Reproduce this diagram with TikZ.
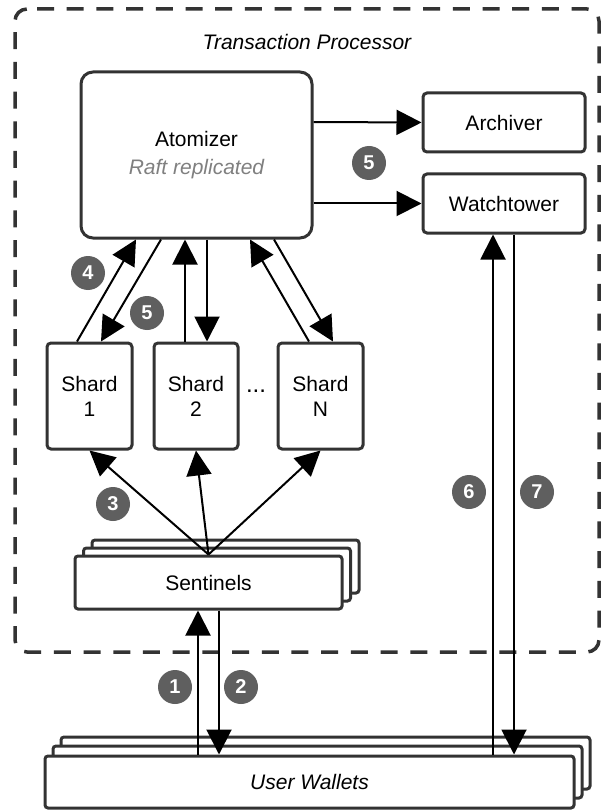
\documentclass[tikz,border=0pt]{standalone}
\usepackage{fontspec}
\setmainfont{Liberation Sans}
\usetikzlibrary{arrows.meta}
\definecolor{boxline}{HTML}{333333}
\definecolor{badgefill}{HTML}{5F5F5F}
\tikzset{
	box/.style={draw=boxline,line width=3pt,fill=white,rounded corners=4pt,inner sep=0pt,align=center,font=\fontsize{21}{25}\selectfont},
	stackbox/.style={box,rounded corners=3pt},
	flow/.style={line width=2pt,-{Triangle[length=25pt,width=25pt]}},
	badge/.style={circle,fill=badgefill,text=white,inner sep=0pt,minimum size=34pt,font=\fontsize{20}{20}\selectfont\bfseries},
	frame/.style={draw=boxline,line width=3.5pt,dash pattern=on 17pt off 12.7pt,rounded corners=12pt},
}
\begin{document}
\begin{tikzpicture}[x=1pt,y=-1pt]
	\useasboundingbox (0,0) rectangle (600,810);
	\draw[frame] (37,9) -- (599,9) -- (599,652) -- (15,652) -- (15,9) -- (37,9);
	\node[font=\fontsize{21}{25}\selectfont\itshape] (title) at (307,42) {Transaction Processor};
	\node[box,rounded corners=12pt,minimum width=231pt,minimum height=166pt] (atomizer) at (196.5,155) {Atomizer\\[3pt]{\color{gray}\itshape Raft replicated}};
	\node[box,minimum width=162pt,minimum height=59pt] (archiver) at (504,122.5) {Archiver};
	\node[box,minimum width=162pt,minimum height=59pt] (watchtower) at (504,203.5) {Watchtower};
	\node[box,minimum width=85pt,minimum height=106pt] (shard1) at (89.5,396) {Shard\\1};
	\node[box,minimum width=84pt,minimum height=106pt] (shard2) at (196,396) {Shard\\2};
	\node[box,minimum width=85pt,minimum height=106pt] (shardN) at (320.5,396) {Shard\\N};
	\node[font=\fontsize{24}{25}\selectfont] (dots) at (256,391) {...};
	% sentinels stack
	\node[stackbox,minimum width=267pt,minimum height=53pt] (sentinels3) at (225.5,566.5) {};
	\node[stackbox,minimum width=267pt,minimum height=53pt] (sentinels2) at (217,574.5) {};
	\node[stackbox,minimum width=267pt,minimum height=53pt] (sentinels) at (208.5,582.5) {Sentinels};
	% wallets stack
	\node[stackbox,minimum width=529pt,minimum height=52pt] (wallets3) at (325.5,763) {};
	\node[stackbox,minimum width=529pt,minimum height=52pt] (wallets2) at (317.5,772) {};
	\node[stackbox,minimum width=529pt,minimum height=52pt] (wallets) at (309.5,782) {\itshape User Wallets};
	% atomizer outputs
	\draw[flow] ([yshift=33pt]atomizer.east) -- (archiver.west);
	\draw[flow] ([yshift=-48.5pt]atomizer.east) -- (watchtower.west);
	% atomizer and shards
	\draw[flow] ([xshift=-12.5pt]shard1.north) -- ([xshift=-60.5pt]atomizer.south);
	\draw[flow] ([xshift=-35.5pt]atomizer.south) -- ([xshift=11.5pt]shard1.north);
	\draw[flow] ([xshift=-11pt]shard2.north) -- ([xshift=-11.5pt]atomizer.south);
	\draw[flow] ([xshift=10.5pt]atomizer.south) -- ([xshift=11pt]shard2.north);
	\draw[flow] ([xshift=-11.5pt]shardN.north) -- ([xshift=53.5pt]atomizer.south);
	\draw[flow] ([xshift=77.5pt]atomizer.south) -- ([xshift=12.5pt]shardN.north);
	% sentinels to shards
	\draw[flow] (sentinels.north) -- (shard1.south);
	\draw[flow] (sentinels.north) -- (shard2.south);
	\draw[flow] (sentinels.north) -- (shardN.south);
	% wallets
	\draw[flow] ([xshift=-111.5pt]wallets.north) -- ([xshift=-10.5pt]sentinels.south);
	\draw[flow] ([xshift=10.5pt]sentinels.south) -- ([xshift=-90.5pt]wallets.north);
	\draw[flow] ([xshift=183.5pt]wallets.north) -- ([xshift=-11pt]watchtower.south);
	\draw[flow] ([xshift=10pt]watchtower.south) -- ([xshift=204.5pt]wallets.north);
	% step numbers
	\node[badge] (step1) at (175,687) {1};
	\node[badge] (step2) at (241,687) {2};
	\node[badge] (step3) at (113,504) {3};
	\node[badge] (step4) at (88,273) {4};
	\node[badge] (step5a) at (147,313) {5};
	\node[badge] (step5b) at (369,163) {5};
	\node[badge] (step6) at (469,492) {6};
	\node[badge] (step7) at (537,492) {7};
\end{tikzpicture}
\end{document}
